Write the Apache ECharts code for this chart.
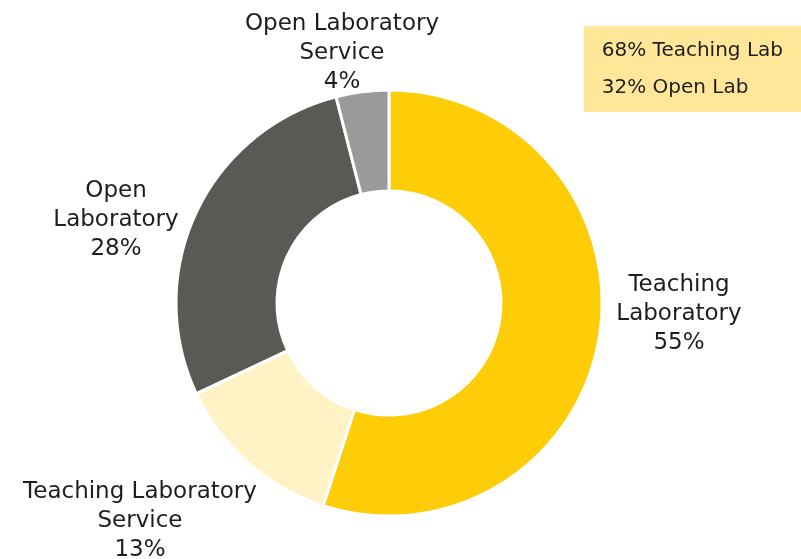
<!DOCTYPE html>
<html>
<head>
<meta charset="utf-8">
<style>
  html, body { margin: 0; padding: 0; background: #fff; }
  #chart { width: 801px; height: 559px; }
</style>
<script src="https://cdn.jsdelivr.net/npm/echarts@6/dist/echarts.min.js"></script>
</head>
<body>
<div id="chart"></div>
<script>
const categories = [
  "Teaching\nLaboratory",
  "Teaching Laboratory\nService",
  "Open\nLaboratory",
  "Open Laboratory\nService"
];
const values = [55, 13, 28, 4];
const colors = ["#FFCC08", "#FFF2C4", "#5A5A55", "#9A9A9A"];

// label centres, placed like the original
const labelSpots = [
  [679, 314],
  [140, 521],
  [116, 220],
  [342, 53]
];

const teachingShare = values[0] + values[1];
const openShare = values[2] + values[3];

const font = "'DejaVu Sans', sans-serif";

const myChart = echarts.init(document.getElementById("chart"));
const option = {
  animation: false,
  title: {
    text: teachingShare + "% Teaching Lab\n" + openShare + "% Open Lab",
    right: 0,
    top: 26,
    backgroundColor: "#FFE699",
    padding: [6, 18, 6, 18],
    textStyle: {
      fontFamily: font,
      fontWeight: "normal",
      fontSize: 20,
      lineHeight: 37,
      color: "#1e1e1e",
      align: "center"
    }
  },
  series: [
    {
      type: "pie",
      center: [389, 303],
      radius: [112, 213],
      startAngle: 90,
      clockwise: true,
      data: categories.map((name, i) => ({
        name: name,
        value: values[i],
        itemStyle: { color: colors[i] }
      })),
      itemStyle: {
        borderColor: "#fff",
        borderWidth: 3
      },
      label: {
        show: true,
        position: "outside",
        formatter: (p) => p.name + "\n" + p.value + "%",
        fontFamily: font,
        fontSize: 23,
        lineHeight: 29,
        color: "#1e1e1e",
        overflow: "none"
      },
      labelLine: { show: false },
      labelLayout: (params) => ({
        x: labelSpots[params.dataIndex][0],
        y: labelSpots[params.dataIndex][1],
        align: "center",
        verticalAlign: "middle"
      }),
      emphasis: { disabled: true }
    }
  ]
};
myChart.setOption(option);
</script>
</body>
</html>
